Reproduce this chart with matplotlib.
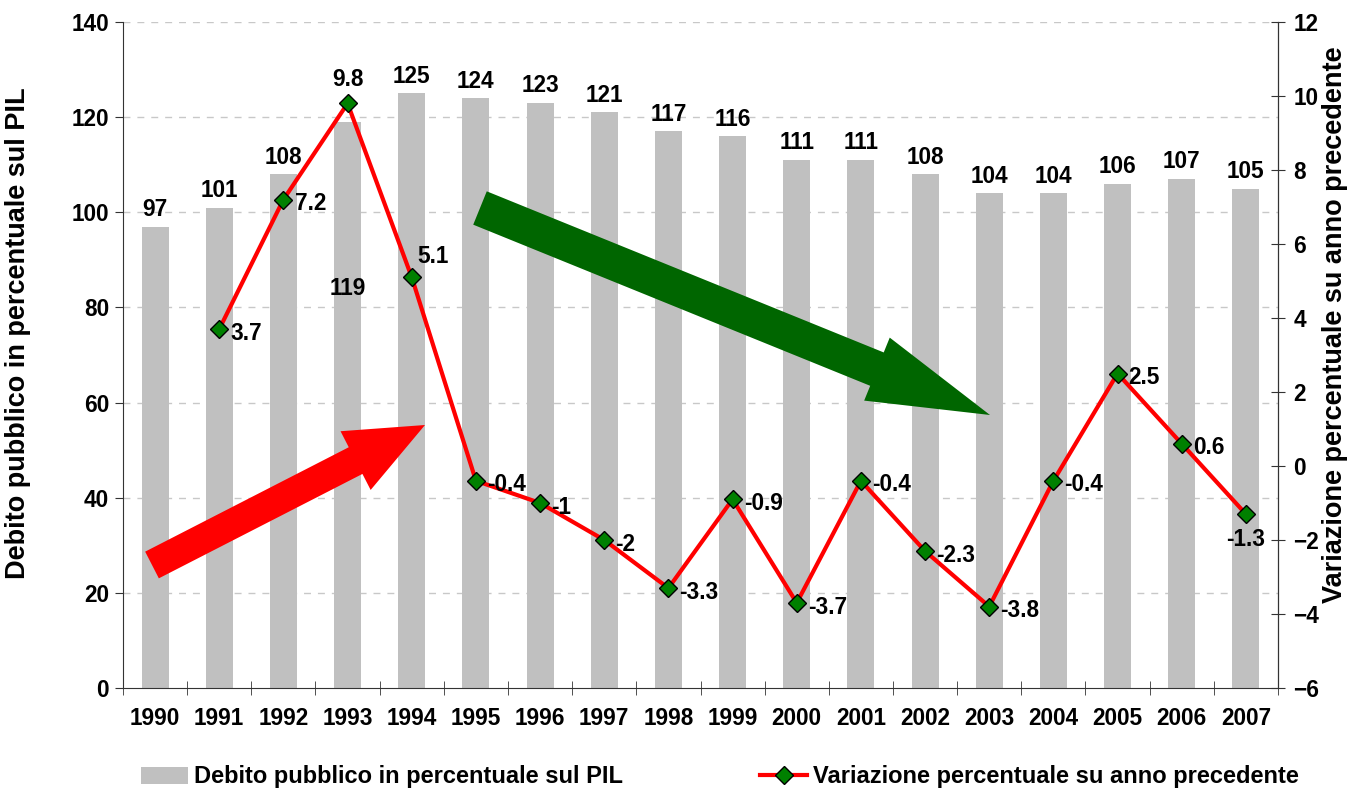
import numpy as np
import matplotlib.pyplot as plt
from matplotlib.patches import FancyArrow

plt.rcParams['font.family'] = ['Liberation Sans', 'DejaVu Sans']
plt.rcParams['font.weight'] = 'bold'

years = ['1990', '1991', '1992', '1993', '1994', '1995', '1996', '1997', '1998',
         '1999', '2000', '2001', '2002', '2003', '2004', '2005', '2006', '2007']
debito = [97, 101, 108, 119, 125, 124, 123, 121, 117, 116, 111, 111, 108, 104, 104, 106, 107, 105]
variaz = [np.nan, 3.7, 7.2, 9.8, 5.1, -0.4, -1, -2, -3.3, -0.9, -3.7, -0.4, -2.3, -3.8, -0.4, 2.5, 0.6, -1.3]

fs = 16.3
x = np.arange(len(years))

fig = plt.figure(figsize=(13.54, 7.92), dpi=100)
ax = fig.add_axes([123/1354, 1-688/792, (1278-123)/1354, 666/792])
ax2 = ax.twinx()

bars = ax.bar(x, debito, width=0.42, color='#c0c0c0', zorder=2, label='Debito pubblico in percentuale sul PIL')
ax.set_xlim(-0.5, len(years) - 0.5)
ax.set_ylim(0, 140)
ax.set_yticks(np.arange(0, 141, 20))
for g in np.arange(20, 141, 20):
    ax.axhline(g, color='#c8c8c8', lw=1, ls=(0, (5, 5)), zorder=1)

for i, v in enumerate(debito):
    if years[i] == '1993':
        ax.text(i, v - 35, str(v), ha='center', va='center', fontsize=fs, fontweight='bold')
    else:
        ax.annotate(str(v), (i, v), xytext=(0, 4), textcoords='offset points',
                    ha='center', va='bottom', fontsize=fs, fontweight='bold')

ax.set_xticks(x)
ax.set_xticklabels(years, fontsize=fs, fontweight='bold')
ax.tick_params(axis='x', which='major', length=0, pad=14)
ax.set_xticks(np.arange(-0.5, len(years), 1), minor=True)
ax.tick_params(axis='x', which='minor', length=10, direction='inout', color='#333333')
ax.tick_params(axis='y', labelsize=fs, length=6, color='#333333', pad=4)
for lab in ax.get_yticklabels():
    lab.set_fontweight('bold')

ax.spines['top'].set_visible(False)
ax2.spines['top'].set_visible(False)
for s in ['left', 'bottom']:
    ax.spines[s].set_color('#333333')
ax2.spines['right'].set_color('#333333')
ax2.spines['left'].set_visible(False)
ax2.spines['bottom'].set_visible(False)

line, = ax2.plot(x, variaz, color='red', lw=3, marker='D', markersize=9.5,
                 markerfacecolor='#008000', markeredgecolor='black', markeredgewidth=1,
                 zorder=5, label='Variazione percentuale su anno precedente')
ax2.set_ylim(-6, 12)
ax2.set_yticks(np.arange(-6, 13, 2))
ax2.tick_params(axis='y', labelsize=fs, length=10, direction='inout', color='#333333', pad=6)
for lab in ax2.get_yticklabels():
    lab.set_fontweight('bold')

special = {'1993': ((0, 9), 'center', 'bottom'),
           '1994': ((4, 7), 'left', 'bottom'),
           '2007': ((0, -10), 'center', 'top')}
for i, v in enumerate(variaz):
    if np.isnan(v):
        continue
    off, ha, va = special.get(years[i], ((8, -3), 'left', 'center'))
    ax2.annotate('%g' % v, (i, v), xytext=off, textcoords='offset points',
                 ha=ha, va=va, fontsize=fs, fontweight='bold', zorder=6)

ax.set_ylabel('Debito pubblico in percentuale sul PIL', fontsize=19.5, fontweight='bold')
ax.yaxis.set_label_coords(-92/1155, 0.533)
ax2.set_ylabel('Variazione percentuale su anno precedente', fontsize=19.5, fontweight='bold')
ax2.yaxis.set_label_coords(1 + 44/1155, 0.545)

# decorative arrows, in figure pixel space
ov = fig.add_axes([0, 0, 1, 1], facecolor='none')
ov.set_xlim(0, 1354)
ov.set_ylim(792, 0)
ov.axis('off')
ov.add_patch(FancyArrow(152, 565, 273, -140, width=30, head_width=66, head_length=78,
                        length_includes_head=True, color='#ff0000', lw=0))
ov.add_patch(FancyArrow(480, 208, 510, 207, width=36, head_width=68, head_length=122,
                        length_includes_head=True, color='#006600', lw=0))

fig.legend(handles=[bars, line], loc='center', bbox_to_anchor=(720/1354, 15/792),
           ncol=2, frameon=False, handlelength=2.0, columnspacing=5.8,
           handletextpad=0.25, borderpad=0, prop={'weight': 'bold', 'size': 17})

fig.savefig('out.png', dpi=100)
